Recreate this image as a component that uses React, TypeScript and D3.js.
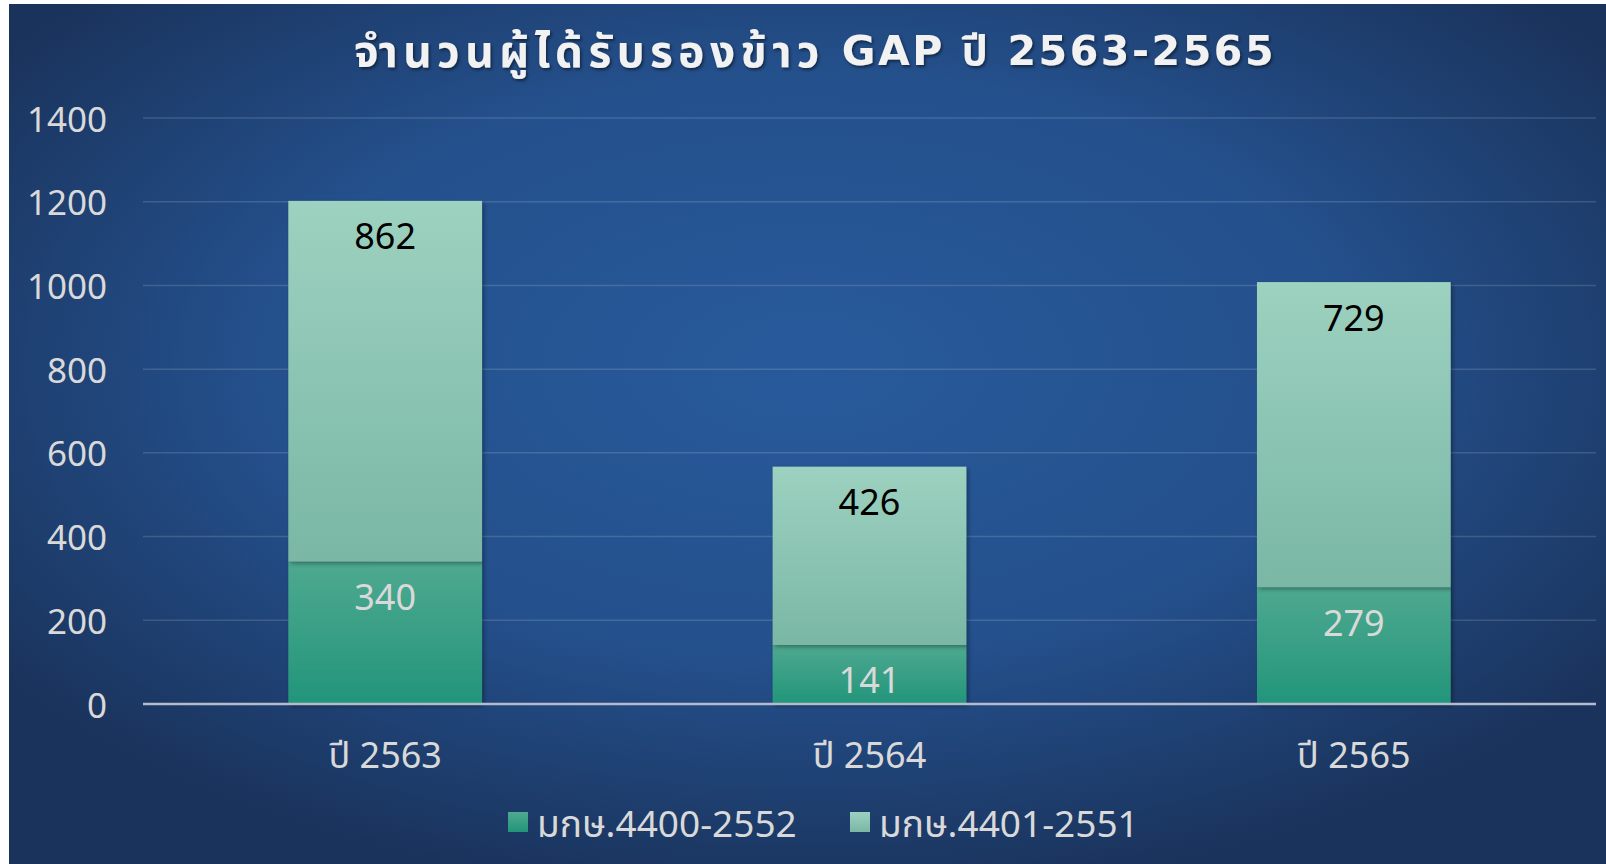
import React from 'react';
import * as d3 from 'd3';

const categories = ['ปี 2563', 'ปี 2564', 'ปี 2565'];
const seriesNames = ['มกษ.4400-2552', 'มกษ.4401-2551'];
const seriesA = [340, 141, 279];
const seriesB = [862, 426, 729];
const yTicks = [0, 200, 400, 600, 800, 1000, 1200, 1400];
const titleThai = 'จำนวนผู้ได้รับรองข้าว';
const titleRest = ' GAP ปี 2563-2565';

const FONT = "Tahoma, 'Noto Sans', 'Noto Sans Thai', sans-serif";
const TITLE_FONT = "'DejaVu Sans', 'Noto Sans', 'Noto Sans Thai', sans-serif";

export default function App() {
  const W = 1606, H = 864;
  const left = 143, right = 1596, top = 118, bottom = 704;
  const x = d3.scaleBand<string>().domain(categories).range([left, right]).paddingInner(0.6).paddingOuter(0.3);
  const y = d3.scaleLinear().domain([0, 1400]).range([bottom, top]);
  const rows = categories.map((c, i) => ({ cat: c, a: seriesA[i], b: seriesB[i] }));
  const stacked = d3.stack<any>().keys(['a', 'b'])(rows);
  const fills = ['url(#gA)', 'url(#gB)'];
  const labelColors = ['#d9d9d9', '#000000'];

  return (
    <svg width={W} height={H} style={{ position: 'absolute', left: 0, top: 0 }} fontFamily={FONT}>
      <defs>
        <radialGradient id="bg" cx="0.5" cy="0.42" r="0.62">
          <stop offset="0" stopColor="#285a9b" />
          <stop offset="0.55" stopColor="#24508c" />
          <stop offset="1" stopColor="#1a335c" />
        </radialGradient>
        <linearGradient id="gA" x1="0" y1="0" x2="0" y2="1">
          <stop offset="0" stopColor="#4ea990" />
          <stop offset="1" stopColor="#22957a" />
        </linearGradient>
        <linearGradient id="gB" x1="0" y1="0" x2="0" y2="1">
          <stop offset="0" stopColor="#9dd1c0" />
          <stop offset="1" stopColor="#7ab7a5" />
        </linearGradient>
        <filter id="shadow" x="-10%" y="-10%" width="130%" height="130%">
          <feDropShadow dx="2" dy="2" stdDeviation="2" floodColor="#000" floodOpacity="0.35" />
        </filter>
        <filter id="tshadow" x="-5%" y="-20%" width="110%" height="150%">
          <feDropShadow dx="1.5" dy="2" stdDeviation="1.5" floodColor="#000" floodOpacity="0.5" />
        </filter>
      </defs>
      <rect x={9} y={4} width={W - 9} height={H - 4} fill="url(#bg)" />

      <text x={815} y={51} textAnchor="middle" dominantBaseline="central" fill="#f2f2f2"
        fontFamily={TITLE_FONT} fontWeight="bold" filter="url(#tshadow)">
        <tspan fontSize={44} letterSpacing={5.5}>{titleThai}</tspan>
        <tspan fontSize={41} letterSpacing={2.6}>{titleRest}</tspan>
      </text>

      {yTicks.map(t => (
        <g key={t}>
          {t > 0 && <line x1={left} x2={right} y1={y(t)} y2={y(t)} stroke="#ffffff" strokeOpacity={0.14} strokeWidth={1.5} />}
          <text x={107} y={y(t)} textAnchor="end" dominantBaseline="central" fill="#d9d9d9" fontSize={35}>{t}</text>
        </g>
      ))}

      {stacked.map((s, si) => (
        <g key={si}>
          {s.map((d, i) => {
            const cat = categories[i];
            const x0 = x(cat)!;
            const y0 = y(d[1]);
            const h = y(d[0]) - y(d[1]);
            return (
              <g key={i}>
                <rect x={x0} y={y0} width={x.bandwidth()} height={h} fill={fills[si]} filter="url(#shadow)" />
              </g>
            );
          })}
        </g>
      ))}
      {stacked.map((s, si) => (
        <g key={'l' + si}>
          {s.map((d, i) => {
            const cat = categories[i];
            const cx = x(cat)! + x.bandwidth() / 2;
            return (
              <text key={i} x={cx} y={y(d[1]) + 35} textAnchor="middle" dominantBaseline="central"
                fill={labelColors[si]} fontSize={36}>{(d[1] - d[0])}</text>
            );
          })}
        </g>
      ))}

      <line x1={left} x2={right} y1={y(0)} y2={y(0)} stroke="#b4bccb" strokeWidth={2.5} />

      {categories.map(c => (
        <text key={c} x={x(c)! + x.bandwidth() / 2} y={754} textAnchor="middle" dominantBaseline="central"
          fill="#d9d9d9" fontSize={36}>{c}</text>
      ))}

      {seriesNames.map((n, i) => {
        const lx = [508, 850][i];
        return (
          <g key={n}>
            <rect x={lx} y={812} width={20} height={20} fill={fills[i]} />
            <text x={lx + 29} y={822} dominantBaseline="central" fill="#d9d9d9" fontSize={37}>{n}</text>
          </g>
        );
      })}
    </svg>
  );
}
